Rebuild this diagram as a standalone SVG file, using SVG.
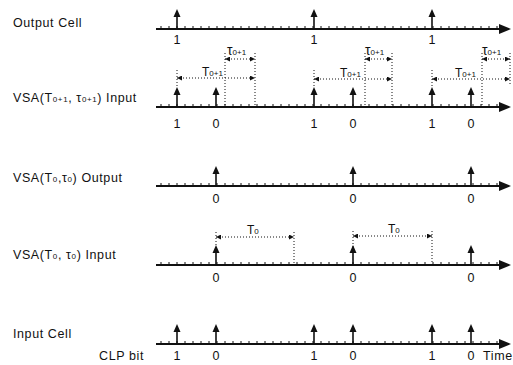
<svg xmlns="http://www.w3.org/2000/svg" xmlns:xlink="http://www.w3.org/1999/xlink" width="513" height="365" viewBox="0 0 513 365">
<style>
  text { font-family: "Liberation Sans", Arial, sans-serif; fill: #111; }
  .lbl { font-size: 12.5px; letter-spacing: 0.6px; }
  .num { font-size: 12.5px; text-anchor: middle; }
  .dim { font-size: 12px; }
  .tau { font-size: 14px; }
  .sub { font-size: 8px; }
  .ax { stroke: #111; stroke-width: 2; fill: none; }
  .tk { stroke: #111; stroke-width: 1; fill: none; }
  .pl { stroke: #111; stroke-width: 1.6; }
  .dot { stroke: #111; stroke-width: 1; stroke-dasharray: 1 2; fill: none; }
  .dimline { stroke: #111; stroke-width: 1; stroke-dasharray: 1 2; fill: none; marker-start: url(#ah); marker-end: url(#ah); }
</style>
<defs>
  <marker id="ah" viewBox="0 0 6 6" refX="6" refY="3" markerWidth="5" markerHeight="5" markerUnits="userSpaceOnUse" orient="auto-start-reverse">
    <path d="M0,0 L6,3 L0,6 Z" fill="#111"/>
  </marker>
  <g id="axis">
    <line class="ax" x1="156" y1="0" x2="502" y2="0"/>
    <path class="tk" d="M161 0v-3M169 0v-3M177 0v-3M185 0v-3M193 0v-3M201 0v-3M209 0v-3M217 0v-3M225 0v-3M233 0v-3M241 0v-3M249 0v-3M257 0v-3M265 0v-3M273 0v-3M281 0v-3M289 0v-3M297 0v-3M305 0v-3M313 0v-3M321 0v-3M329 0v-3M337 0v-3M345 0v-3M353 0v-3M361 0v-3M369 0v-3M377 0v-3M385 0v-3M393 0v-3M401 0v-3M409 0v-3M417 0v-3M425 0v-3M433 0v-3M441 0v-3M449 0v-3M457 0v-3M465 0v-3M473 0v-3M481 0v-3M489 0v-3M497 0v-3"/>
    <polygon points="499,-5 511,0 499,5" fill="#111"/>
  </g>
  <g id="p">
    <line class="pl" x1="0" y1="0" x2="0" y2="-14"/>
    <polygon points="0,-20 -3.5,-12 3.5,-12" fill="#111"/>
  </g>
</defs>

<g id="output-cell">
  <text class="lbl" x="13" y="27">Output Cell</text>
  <use xlink:href="#axis" y="29"/>
  <use xlink:href="#p" x="177" y="29"/>
  <use xlink:href="#p" x="314" y="29"/>
  <use xlink:href="#p" x="432" y="29"/>
  <text class="num" x="177" y="44">1</text>
  <text class="num" x="314" y="44">1</text>
  <text class="num" x="432" y="44">1</text>
</g>

<g id="vsa-t01-input">
  <text class="lbl" x="13" y="102">VSA(T<tspan class="sub">0+1</tspan>, τ<tspan class="sub">0+1</tspan>) Input</text>
  <use xlink:href="#axis" y="107"/>
  <use xlink:href="#p" x="177" y="107"/>
  <use xlink:href="#p" x="216" y="107"/>
  <use xlink:href="#p" x="314" y="107"/>
  <use xlink:href="#p" x="353" y="107"/>
  <use xlink:href="#p" x="432" y="107"/>
  <use xlink:href="#p" x="471" y="107"/>
  <text class="num" x="177" y="128">1</text>
  <text class="num" x="216" y="128">0</text>
  <text class="num" x="314" y="128">1</text>
  <text class="num" x="353" y="128">0</text>
  <text class="num" x="432" y="128">1</text>
  <text class="num" x="471" y="128">0</text>
</g>

<g id="vsa-t0-output">
  <text class="lbl" x="13" y="182">VSA(T<tspan class="sub">0</tspan>,τ<tspan class="sub">0</tspan>) Output</text>
  <use xlink:href="#axis" y="186"/>
  <use xlink:href="#p" x="216" y="186"/>
  <use xlink:href="#p" x="353" y="186"/>
  <use xlink:href="#p" x="471" y="186"/>
  <text class="num" x="216" y="203">0</text>
  <text class="num" x="353" y="203">0</text>
  <text class="num" x="471" y="203">0</text>
</g>

<g id="vsa-t0-input">
  <text class="lbl" x="13" y="259">VSA(T<tspan class="sub">0</tspan>, τ<tspan class="sub">0</tspan>) Input</text>
  <use xlink:href="#axis" y="265"/>
  <use xlink:href="#p" x="216" y="265"/>
  <use xlink:href="#p" x="353" y="265"/>
  <use xlink:href="#p" x="471" y="265"/>
  <text class="num" x="216" y="282">0</text>
  <text class="num" x="353" y="282">0</text>
  <text class="num" x="471" y="282">0</text>
</g>

<g id="input-cell">
  <text class="lbl" x="13" y="338">Input Cell</text>
  <use xlink:href="#axis" y="344"/>
  <use xlink:href="#p" x="177" y="344"/>
  <use xlink:href="#p" x="216" y="344"/>
  <use xlink:href="#p" x="314" y="344"/>
  <use xlink:href="#p" x="353" y="344"/>
  <use xlink:href="#p" x="432" y="344"/>
  <use xlink:href="#p" x="471" y="344"/>
  <text class="lbl" x="99" y="360">CLP bit</text>
  <text class="num" x="177" y="360">1</text>
  <text class="num" x="216" y="360">0</text>
  <text class="num" x="314" y="360">1</text>
  <text class="num" x="353" y="360">0</text>
  <text class="num" x="432" y="360">1</text>
  <text class="num" x="471" y="360">0</text>
  <text class="lbl" x="483" y="360">Time</text>
</g>

<g id="connectors">
  <path class="dot" d="M177 70V86M225 53V107M255 53V107M314 70V86M365 53V107M392 53V107M432 70V86M482 53V107M510 53V85"/>
  <line class="dimline" x1="225" y1="59" x2="255" y2="59"/>
  <line class="dimline" x1="177" y1="78" x2="255" y2="78"/>
  <line class="dimline" x1="365" y1="59" x2="392" y2="59"/>
  <line class="dimline" x1="314" y1="79" x2="392" y2="79"/>
  <line class="dimline" x1="482" y1="59" x2="510" y2="59"/>
  <line class="dimline" x1="432" y1="79" x2="510" y2="79"/>
  <path class="dot" d="M216 232V247M294 232V264M353 231V247M432 231V264"/>
  <line class="dimline" x1="216" y1="237" x2="294" y2="237"/>
  <line class="dimline" x1="353" y1="236" x2="432" y2="236"/>
</g>

<g id="dim-labels">
  <text class="dim" x="227" y="55"><tspan class="tau">τ</tspan><tspan class="sub">0+1</tspan></text>
  <text class="dim" x="202" y="76">T<tspan class="sub">0+1</tspan></text>
  <text class="dim" x="365" y="55"><tspan class="tau">τ</tspan><tspan class="sub">0+1</tspan></text>
  <text class="dim" x="340" y="77">T<tspan class="sub">0+1</tspan></text>
  <text class="dim" x="482" y="55"><tspan class="tau">τ</tspan><tspan class="sub">0+1</tspan></text>
  <text class="dim" x="455" y="77">T<tspan class="sub">0+1</tspan></text>
  <text class="dim" x="247" y="234">T<tspan class="sub">0</tspan></text>
  <text class="dim" x="388" y="233">T<tspan class="sub">0</tspan></text>
</g>
</svg>
